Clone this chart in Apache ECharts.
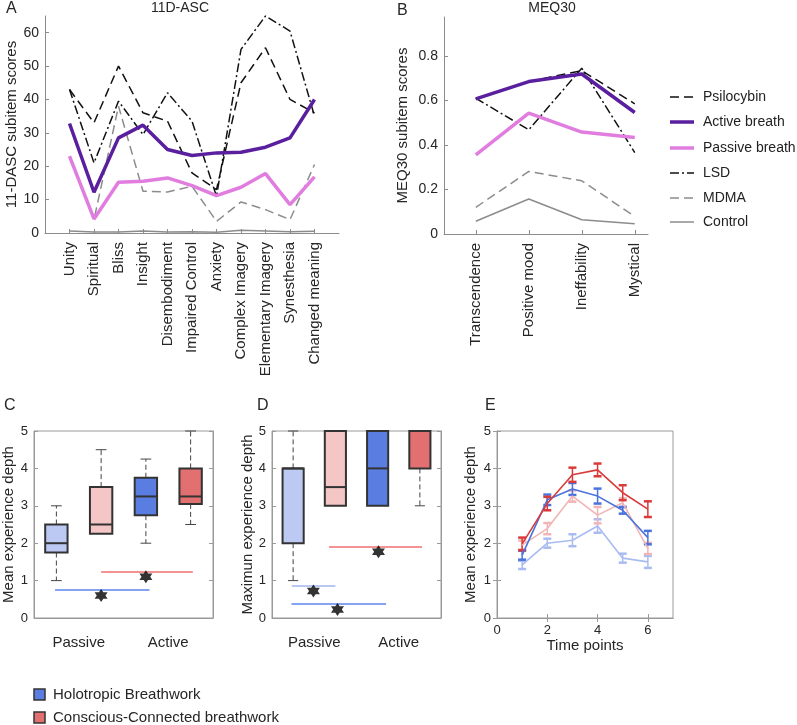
<!DOCTYPE html>
<html><head><meta charset="utf-8">
<script src="https://cdn.jsdelivr.net/npm/echarts@6/dist/echarts.min.js"></script>
<style>html,body{margin:0;padding:0;background:#fff}#c{width:797px;height:725px}</style>
</head><body><div id="c"></div><script>
// ---------- Panel A: 11D-ASC ----------
const dascItems = ['Unity','Spiritual','Bliss','Insight','Disembodiment','Impaired Control','Anxiety','Complex Imagery','Elementary Imagery','Synesthesia','Changed meaning'];
const dascTicks = [0,10,20,30,40,50,60];
const dascPsilocybin = [43,33,50,36,33.5,18,13,45,55.5,40,36];
const dascActive = [32.8,12.2,28.5,32.3,25,23.2,24,24.2,25.7,28.5,40];
const dascPassive = [23,4.2,15.2,15.5,16.5,14.2,11.2,13.7,17.8,8.5,16.8];
const dascLSD = [43,21,39.5,29.5,42,33.5,11,55,65,60.5,35];
const dascMDMA = [22.5,4,38,12.5,12.3,14,3.5,9.3,7,4,20.5];
const dascControl = [0.6,0.3,0.3,0.6,0.3,0.4,0.2,0.8,0.6,0.4,0.5];

// ---------- Panel B: MEQ30 ----------
const meqItems = ['Transcendence','Positive mood','Ineffability','Mystical'];
const meqTicks = [0,0.2,0.4,0.6,0.8];
const meqPsilocybin = [0.607,0.685,0.734,0.585];
const meqActive = [0.607,0.685,0.719,0.546];
const meqPassive = [0.356,0.543,0.458,0.434];
const meqLSD = [0.61,0.468,0.745,0.366];
const meqMDMA = [0.12,0.281,0.239,0.079];
const meqControl = [0.057,0.157,0.064,0.046];
const legendNames = ['Psilocybin','Active breath','Passive breath','LSD','MDMA','Control'];

// ---------- Panels C / D: box plots ----------
const groupLabels = ['Passive','Active'];
const groupPos = [1.5,3.5];
const boxPos = [1,2,3,4];
const meanLo  = [1.0,2.25,2.0,2.5];
const meanQ1  = [1.75,2.25,2.75,3.05];
const meanMed = [2.0,2.5,3.25,3.25];
const meanQ3  = [2.5,3.5,3.75,4.0];
const meanHi  = [3.0,4.5,4.25,5.0];
const maxLo  = [1.0,3.0,3.0,3.0];
const maxQ1  = [2.0,3.0,3.0,4.0];
const maxMed = [4.0,3.5,4.0,5.0];
const maxQ3  = [4.0,5.0,5.0,5.0];
const maxHi  = [5.0,5.0,5.0,5.0];
// significance bars: [x1, x2, y]
const sigC_blue = [0.97,3.08,0.75];
const sigC_red  = [2.0,4.05,1.23];
const starsC = [[2.0,0.6],[3.0,1.1]];
const sigD_light = [0.97,2.0,0.857];
const sigD_blue  = [0.96,3.2,0.375];
const sigD_red   = [1.85,4.05,1.9];
const starsD = [[1.48,0.72],[2.05,0.23],[3.02,1.77]];
const boxLegend = ['Holotropic Breathwork','Conscious-Connected breathwork'];

// ---------- Panel E: time course ----------
const timePoints = [1,2,3,4,5,6];
const eRedMean   = [1.98,3.06,3.83,3.96,3.35,2.91];
const eRedErr    = [0.17,0.18,0.19,0.17,0.2,0.21];
const eBlueMean  = [1.68,3.16,3.45,3.26,2.88,2.15];
const eBlueErr   = [0.12,0.14,0.16,0.2,0.09,0.18];
const ePinkMean  = [1.95,2.39,3.26,2.75,3.08,1.86];
const ePinkErr   = [0.12,0.15,0.15,0.22,0.12,0.15];
const eLightMean = [1.42,2.0,2.08,2.46,1.6,1.5];
const eLightErr  = [0.11,0.12,0.16,0.18,0.12,0.16];

// ---------- styles ----------
const FONT = 'Liberation Sans';
const TXT = '#262626';
const GRAY = '#8c8c8c';
const FRAME = '#9a9a9a';
const boxFill = ['#bccaf3','#f5c6c6','#5a7de2','#e37070'];
const cRed = '#d93b3b', cBlue = '#4b73dd', cPink = '#f1b5b5', cLight = '#a9bcf1';
const STAR = 'path://M0,-10 L2.89,-5 L8.66,-5 L5.77,0 L8.66,5 L2.89,5 L0,10 L-2.89,5 L-8.66,5 L-5.77,0 L-8.66,-5 L-2.89,-5 Z';
const seriesStyle = {
  'Psilocybin':     {color:'#111', width:1.5, type:[9,5]},
  'Active breath':  {color:'#5a1f9e', width:3.5, type:'solid'},
  'Passive breath': {color:'#e07ddf', width:3.5, type:'solid'},
  'LSD':            {color:'#111', width:1.5, type:[9,3,2,3]},
  'MDMA':           {color:GRAY, width:1.5, type:[9,5]},
  'Control':        {color:GRAY, width:1.5, type:'solid'}
};

const pts = (xs, ys) => ys.map((v,i)=>[xs[i], v]);
const dascX = dascItems.map((_,i)=>i+1);
const meqX = meqItems.map((_,i)=>i+1);

function lineSeries(name, xi, yi, data){
  const s = seriesStyle[name];
  return {name, type:'line', xAxisIndex:xi, yAxisIndex:yi, data, symbol:'none', silent:true,
    lineStyle:{color:s.color, width:s.width, type:s.type}, itemStyle:{color:s.color}, z:2};
}
function boxRender(params, api){
  const i = params.dataIndex;
  const x = api.value(0), lo = api.value(1), q1 = api.value(2), md = api.value(3), q3 = api.value(4), hi = api.value(5);
  const half = api.size([0.25,0])[0];
  const cap = api.size([0.12,0])[0];
  const cx = api.coord([x,0])[0];
  const Y = v => api.coord([x,v])[1];
  const ch = [];
  const ws = {stroke:'#444', lineWidth:1, lineDash:[5,3]};
  if (hi > q3){
    ch.push({type:'line', shape:{x1:cx,y1:Y(q3),x2:cx,y2:Y(hi)}, style:ws});
    ch.push({type:'line', shape:{x1:cx-cap,y1:Y(hi),x2:cx+cap,y2:Y(hi)}, style:{stroke:'#444',lineWidth:1}});
  }
  if (lo < q1){
    ch.push({type:'line', shape:{x1:cx,y1:Y(q1),x2:cx,y2:Y(lo)}, style:ws});
    ch.push({type:'line', shape:{x1:cx-cap,y1:Y(lo),x2:cx+cap,y2:Y(lo)}, style:{stroke:'#444',lineWidth:1}});
  }
  ch.push({type:'rect', shape:{x:cx-half, y:Y(q3), width:2*half, height:Y(q1)-Y(q3)}, style:{fill:boxFill[i], stroke:'#333', lineWidth:2}});
  ch.push({type:'line', shape:{x1:cx-half,y1:Y(md),x2:cx+half,y2:Y(md)}, style:{stroke:'#333', lineWidth:2}});
  return {type:'group', children:ch};
}
function errRender(color){
  return function(params, api){
    const x = api.value(0), m = api.value(1), e = api.value(2);
    const t = api.coord([x, m+e]), b = api.coord([x, m-e]);
    const hw = 4;
    return {type:'group', children:[
      {type:'line', shape:{x1:t[0],y1:t[1],x2:b[0],y2:b[1]}, style:{stroke:color,lineWidth:1.5}},
      {type:'line', shape:{x1:t[0]-hw,y1:t[1],x2:t[0]+hw,y2:t[1]}, style:{stroke:color,lineWidth:2.5}},
      {type:'line', shape:{x1:b[0]-hw,y1:b[1],x2:b[0]+hw,y2:b[1]}, style:{stroke:color,lineWidth:2.5}}
    ]};
  };
}
const boxSeries = (xi, yi, lo, q1, md, q3, hi) => ({
  type:'custom', xAxisIndex:xi, yAxisIndex:yi, renderItem:boxRender, silent:true,
  encode:{x:0, y:[1,2,3,4,5]},
  data: boxPos.map((p,i)=>[p, lo[i], q1[i], md[i], q3[i], hi[i]]), z:3
});
const sigLine = (xi, yi, s, color) => ({type:'line', xAxisIndex:xi, yAxisIndex:yi, symbol:'none', silent:true,
  data:[[s[0],s[2]],[s[1],s[2]]], lineStyle:{color, width:1.5}, z:4});
const stars = (xi, yi, d) => ({type:'scatter', xAxisIndex:xi, yAxisIndex:yi, symbol:STAR, symbolSize:13, silent:true,
  data:d, itemStyle:{color:'#000'}, z:5});
const errSeries = (mean, err, color) => ([
  {type:'line', xAxisIndex:4, yAxisIndex:6, data:pts(timePoints, mean), symbol:'none', silent:true, lineStyle:{color, width:1.6}, z:3},
  {type:'custom', xAxisIndex:4, yAxisIndex:6, renderItem:errRender(color), silent:true, encode:{x:0,y:1},
    data: timePoints.map((t,i)=>[t, mean[i], err[i]]), z:3}
]);

const lab = (extra) => Object.assign({color:TXT, fontFamily:FONT, fontSize:13}, extra||{});
const nameStyle = {color:TXT, fontFamily:FONT, fontSize:15};

const boxedY = (gi, name, gap) => ([
  {gridIndex:gi, type:'value', min:0, max:5, interval:1, name, nameLocation:'middle', nameGap:gap, nameTextStyle:nameStyle,
   axisLine:{show:true, lineStyle:{color:FRAME}}, axisTick:{show:true, inside:true, length:4, lineStyle:{color:FRAME}},
   axisLabel:lab({margin:6}), splitLine:{show:false}},
  {gridIndex:gi, type:'value', position:'right', min:0, max:5, interval:1,
   axisLine:{show:true, lineStyle:{color:FRAME}}, axisTick:{show:true, inside:true, length:4, lineStyle:{color:FRAME}},
   axisLabel:{show:false}, splitLine:{show:false}}
]);
const boxedX = (gi) => ({gridIndex:gi, type:'value', min:0.5, max:4.5,
  axisLine:{show:true, lineStyle:{color:FRAME}}, axisTick:{show:false},
  axisLabel:lab({fontSize:15, margin:17, customValues:groupPos, formatter:v=>groupLabels[groupPos.indexOf(v)]}),
  splitLine:{show:false}});

// manual legend for panel B (line samples with dash patterns)
const legendGraphics = [];
const legendY = [97,122,148,173,198,222];
legendNames.forEach((n,i)=>{
  const s = seriesStyle[n];
  legendGraphics.push({type:'line', shape:{x1:670,y1:legendY[i],x2:694,y2:legendY[i]},
    style:{stroke:s.color, lineWidth:s.width, lineDash: s.type==='solid'?null:s.type}});
  legendGraphics.push({type:'text', x:703, y:legendY[i], style:{text:n, fontSize:14, fontFamily:FONT, fill:'#222', verticalAlign:'middle'}});
});

const option = {
  animation:false,
  backgroundColor:'#fff',
  grid:[
    {left:45, top:16, width:294, height:217, show:false},
    {left:444, top:17, width:204, height:217, show:false},
    {left:34, top:431, width:179, height:187, show:true, borderColor:FRAME, borderWidth:1},
    {left:272, top:431, width:169, height:187, show:true, borderColor:FRAME, borderWidth:1},
    {left:497, top:431, width:176, height:187, show:true, borderColor:FRAME, borderWidth:1}
  ],
  xAxis:[
    {gridIndex:0, type:'value', min:0, max:12,
     axisLine:{lineStyle:{color:GRAY}}, axisTick:{inside:true, length:4, customValues:dascX, lineStyle:{color:GRAY}},
     axisLabel:lab({fontSize:15, rotate:90, margin:9, customValues:dascX, formatter:v=>dascItems[v-1]}), splitLine:{show:false}},
    {gridIndex:1, type:'value', min:0.4, max:4.25,
     axisLine:{lineStyle:{color:GRAY}}, axisTick:{inside:true, length:4, customValues:meqX, lineStyle:{color:GRAY}},
     axisLabel:lab({fontSize:15, rotate:90, margin:9, customValues:meqX, formatter:v=>meqItems[v-1]}), splitLine:{show:false}},
    boxedX(2),
    boxedX(3),
    {gridIndex:4, type:'value', min:0, max:7, name:'Time points', nameLocation:'middle', nameGap:20, nameTextStyle:nameStyle,
     axisLine:{lineStyle:{color:FRAME}}, axisTick:{inside:true, length:4, customValues:[0,2,4,6], lineStyle:{color:FRAME}},
     axisLabel:lab({margin:6, customValues:[0,2,4,6]}), splitLine:{show:false}},
    {gridIndex:4, type:'value', position:'top', min:0, max:7,
     axisLine:{lineStyle:{color:FRAME}}, axisTick:{inside:true, length:4, customValues:[2,4,6], lineStyle:{color:FRAME}},
     axisLabel:{show:false}, splitLine:{show:false}}
  ],
  yAxis:[
    {gridIndex:0, type:'value', min:0, max:65, name:'11-DASC subitem scores', nameLocation:'middle', nameGap:22, nameTextStyle:nameStyle,
     axisLine:{show:true, lineStyle:{color:GRAY}}, axisTick:{show:true, inside:true, length:4, customValues:dascTicks, lineStyle:{color:GRAY}},
     axisLabel:lab({fontSize:14, margin:6, customValues:dascTicks}), splitLine:{show:false}},
    {gridIndex:1, type:'value', min:0, max:0.975, name:'MEQ30 subitem scores', nameLocation:'middle', nameGap:34, nameTextStyle:nameStyle,
     axisLine:{show:true, lineStyle:{color:GRAY}}, axisTick:{show:true, inside:true, length:4, customValues:meqTicks, lineStyle:{color:GRAY}},
     axisLabel:lab({fontSize:14, margin:6, customValues:meqTicks, formatter:v=>v===0?'0':v.toFixed(1)}), splitLine:{show:false}},
    ...boxedY(2, 'Mean experience depth', 18),
    ...boxedY(3, 'Maximun experience depth', 17),
    ...boxedY(4, 'Mean experience depth', 19)
  ],
  series:[
    // A
    lineSeries('Control', 0, 0, pts(dascX, dascControl)),
    lineSeries('MDMA', 0, 0, pts(dascX, dascMDMA)),
    lineSeries('LSD', 0, 0, pts(dascX, dascLSD)),
    lineSeries('Psilocybin', 0, 0, pts(dascX, dascPsilocybin)),
    lineSeries('Passive breath', 0, 0, pts(dascX, dascPassive)),
    lineSeries('Active breath', 0, 0, pts(dascX, dascActive)),
    // B
    lineSeries('Control', 1, 1, pts(meqX, meqControl)),
    lineSeries('MDMA', 1, 1, pts(meqX, meqMDMA)),
    lineSeries('LSD', 1, 1, pts(meqX, meqLSD)),
    lineSeries('Psilocybin', 1, 1, pts(meqX, meqPsilocybin)),
    lineSeries('Passive breath', 1, 1, pts(meqX, meqPassive)),
    lineSeries('Active breath', 1, 1, pts(meqX, meqActive)),
    // C
    boxSeries(2, 2, meanLo, meanQ1, meanMed, meanQ3, meanHi),
    sigLine(2, 2, sigC_blue, '#5b84f0'),
    sigLine(2, 2, sigC_red, '#ef6f6f'),
    stars(2, 2, starsC),
    // D
    boxSeries(3, 4, maxLo, maxQ1, maxMed, maxQ3, maxHi),
    sigLine(3, 4, sigD_light, '#a3b5ec'),
    sigLine(3, 4, sigD_blue, '#5b84f0'),
    sigLine(3, 4, sigD_red, '#ef6f6f'),
    stars(3, 4, starsD),
    // E
    ...errSeries(eLightMean, eLightErr, cLight),
    ...errSeries(ePinkMean, ePinkErr, cPink),
    ...errSeries(eBlueMean, eBlueErr, cBlue),
    ...errSeries(eRedMean, eRedErr, cRed)
  ],
  graphic:[
    {type:'text', left:6, top:1, style:{text:'A', fontSize:16, fontFamily:FONT, fill:TXT}},
    {type:'text', left:397, top:3, style:{text:'B', fontSize:16, fontFamily:FONT, fill:TXT}},
    {type:'text', left:4, top:398, style:{text:'C', fontSize:16, fontFamily:FONT, fill:TXT}},
    {type:'text', left:257, top:398, style:{text:'D', fontSize:16, fontFamily:FONT, fill:TXT}},
    {type:'text', left:485, top:398, style:{text:'E', fontSize:16, fontFamily:FONT, fill:TXT}},
    {type:'text', x:180, y:1, style:{text:'11D-ASC', fontSize:14, fontFamily:FONT, fill:TXT, align:'center'}},
    {type:'text', x:552, y:1, style:{text:'MEQ30', fontSize:14, fontFamily:FONT, fill:TXT, align:'center'}},
    ...legendGraphics,
    {type:'rect', shape:{x:34, y:689, width:11, height:11}, style:{fill:boxFill[2], stroke:'#333', lineWidth:1.5}},
    {type:'rect', shape:{x:34, y:712, width:11, height:11}, style:{fill:boxFill[3], stroke:'#333', lineWidth:1.5}},
    {type:'text', x:53, y:695, style:{text:boxLegend[0], fontSize:15, fontFamily:FONT, fill:TXT, verticalAlign:'middle'}},
    {type:'text', x:53, y:718, style:{text:boxLegend[1], fontSize:15, fontFamily:FONT, fill:TXT, verticalAlign:'middle'}}
  ]
};
const chart = echarts.init(document.getElementById('c'));
chart.setOption(option);
</script></body></html>
